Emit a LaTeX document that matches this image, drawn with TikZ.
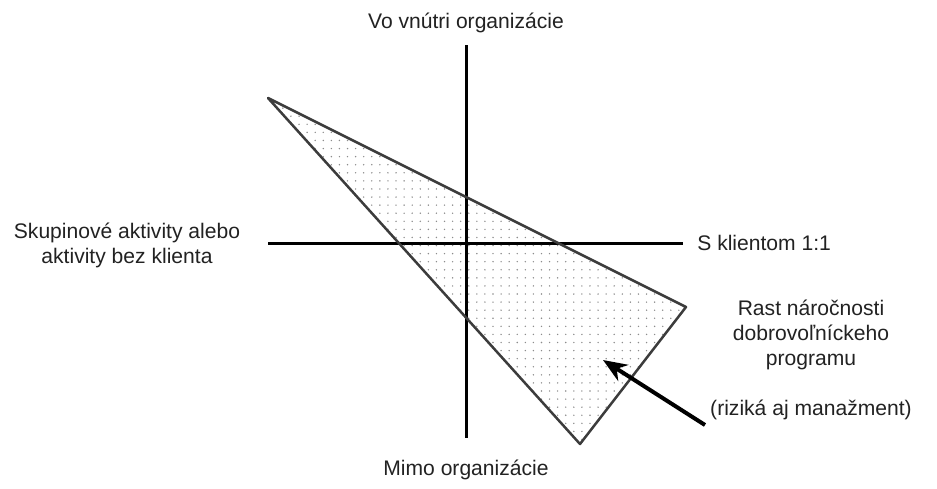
\documentclass[tikz,border=0pt]{standalone}
\usepackage{fontspec}
\setmainfont{Liberation Sans}
\usetikzlibrary{arrows.meta,patterns.meta}
\definecolor{textgray}{RGB}{34,34,34}
\definecolor{edgegray}{RGB}{60,60,60}
\tikzset{
  axis/.style={
    line width=0.6mm,
    black
  },
  zone/.style={
    line width=0.5mm,
    draw=edgegray,
    line join=round,
    pattern={Dots[distance=4.6pt, radius=0.45pt]},
    pattern color=gray!90
  },
  label/.style={
    text=textgray,
    font=\fontsize{12}{14.2}\selectfont,
    align=center,
    inner sep=0pt
  },
  pointer/.style={
    line width=0.8mm,
    black,
    -{Stealth[length=4.8mm, width=3.8mm]}
  }
}

\begin{document}
\begin{tikzpicture}[x=0.02cm, y=-0.02cm]
  \useasboundingbox (0,0) rectangle (937,488);
  % axes
  \coordinate (top) at (466,45);
  \coordinate (bottom) at (466,438);
  \coordinate (left) at (268,243);
  \coordinate (right) at (683,243);
  \draw[axis] (top) -- (bottom);
  \draw[axis] (left) -- (right);
  % triangle
  \coordinate (tA) at (268,98);
  \coordinate (tB) at (686,307);
  \coordinate (tC) at (580,444);
  \draw[zone] (tA) -- (tB) -- (tC) -- cycle;
  % labels
  \node[label] (inside) at (466,23) {Vo vnútri organizácie};
  \node[label] (outside) at (466,470) {Mimo organizácie};
  \node[label] (group) at (127,245) {Skupinové aktivity alebo\\aktivity bez klienta};
  \node[label, anchor=west] (client) at (697,243) {S klientom 1:1};
  \node[label] (growth) at (811,335) {Rast náročnosti\\dobrovoľníckeho\\programu};
  \node[label] (risk) at (811,410) {(riziká aj manažment)};
  \coordinate (tail) at (705,425);
  \coordinate (tip) at (603,360);
  \draw[pointer] (tail) -- (tip);
\end{tikzpicture}
\end{document}
